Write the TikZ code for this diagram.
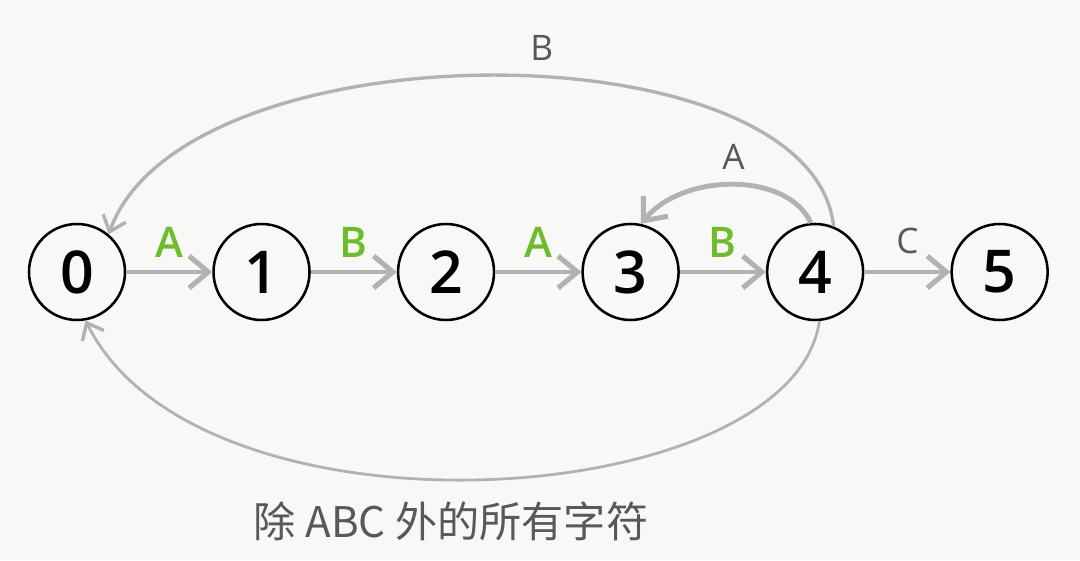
\documentclass[tikz,border=0pt]{standalone}
\usepackage{fontspec}
\setmainfont{Open Sans}
\IfFontExistsTF{Open Sans Semibold}
  {\newfontfamily\semifont{Open Sans Semibold}}
  {\newfontfamily\semifont{Open Sans}[FakeBold=1.5]}
\newfontfamily\cjkfont{Noto Sans CJK SC}
\usetikzlibrary{positioning,arrows.meta}

\definecolor{edgegrey}{RGB}{178,178,178}
\definecolor{labelgrey}{RGB}{88,88,88}
\definecolor{matchgreen}{RGB}{108,190,40}
\definecolor{paper}{RGB}{248,248,246}

\begin{document}
\begin{tikzpicture}[
  statestyle/.style={
        draw,
        circle,
        line width=1.8pt,
        minimum size=2.4cm,
        inner sep=0pt,
        font=\semifont\fontsize{42}{46}\selectfont
  },
  edgestyle/.style={
        edgegrey,
        line width=2.2pt,
        -{Straight Barb[length=0.48cm, width=0.8cm, line width=3.6pt]}
  },
  backstyle/.style={
        edgegrey,
        line width=2pt,
        -{Straight Barb[length=0.36cm, width=0.6cm, line width=2.4pt]}
  },
  matchlabel/.style={
        text=matchgreen,
        font=\semifont\fontsize{30}{34}\selectfont
  },
  otherlabel/.style={
        text=labelgrey,
        font=\fontsize{25}{28}\selectfont
  }
]

    \fill[paper] (0,0) rectangle (27,14);
    \useasboundingbox (0,0) rectangle (27,14);

    \node[statestyle] (S_0) at (1.925, 7.2) {0};
    \node[statestyle, right=2.15cm of S_0] (S_1) {1};
    \node[statestyle, right=2.15cm of S_1] (S_2) {2};
    \node[statestyle, right=2.15cm of S_2] (S_3) {3};
    \node[statestyle, right=2.15cm of S_3] (S_4) {4};
    \node[statestyle, right=2.15cm of S_4] (S_5) {5};

    \draw[edgestyle] (S_0) -- node[matchlabel, above=0.2cm] {A} (S_1);
    \draw[edgestyle] (S_1) -- node[matchlabel, above=0.2cm] {B} (S_2);
    \draw[edgestyle] (S_2) -- node[matchlabel, above=0.2cm] {A} (S_3);
    \draw[edgestyle] (S_3) -- node[matchlabel, above=0.2cm] {B} (S_4);
    \draw[edgestyle] (S_4) -- node[otherlabel, above=0.3cm] {C} (S_5);

    \draw[edgestyle, line width=3.5pt] (S_4.95)
        .. controls (19.7,9.7) and (17.1,9.7) .. (S_3.78)
        node[otherlabel, pos=0.5, above=0.2cm] {A};
    \draw[backstyle, line width=2.4pt] (S_4.68)
        .. controls (20.3,13.4) and (4.6,13.4) .. (S_0.50)
        node[otherlabel, pos=0.45, above=0.25cm] {B};
    \draw[backstyle] (S_4.-85)
        .. controls (19.8,1.2) and (5.0,0.2) .. (S_0.-80)
        node[pos=0.5, below=0.4cm, xshift=-0.85cm, text=labelgrey, font=\fontsize{30}{34}\selectfont] {\cjkfont 除 ABC 外的所有字符};
\end{tikzpicture}
\end{document}
